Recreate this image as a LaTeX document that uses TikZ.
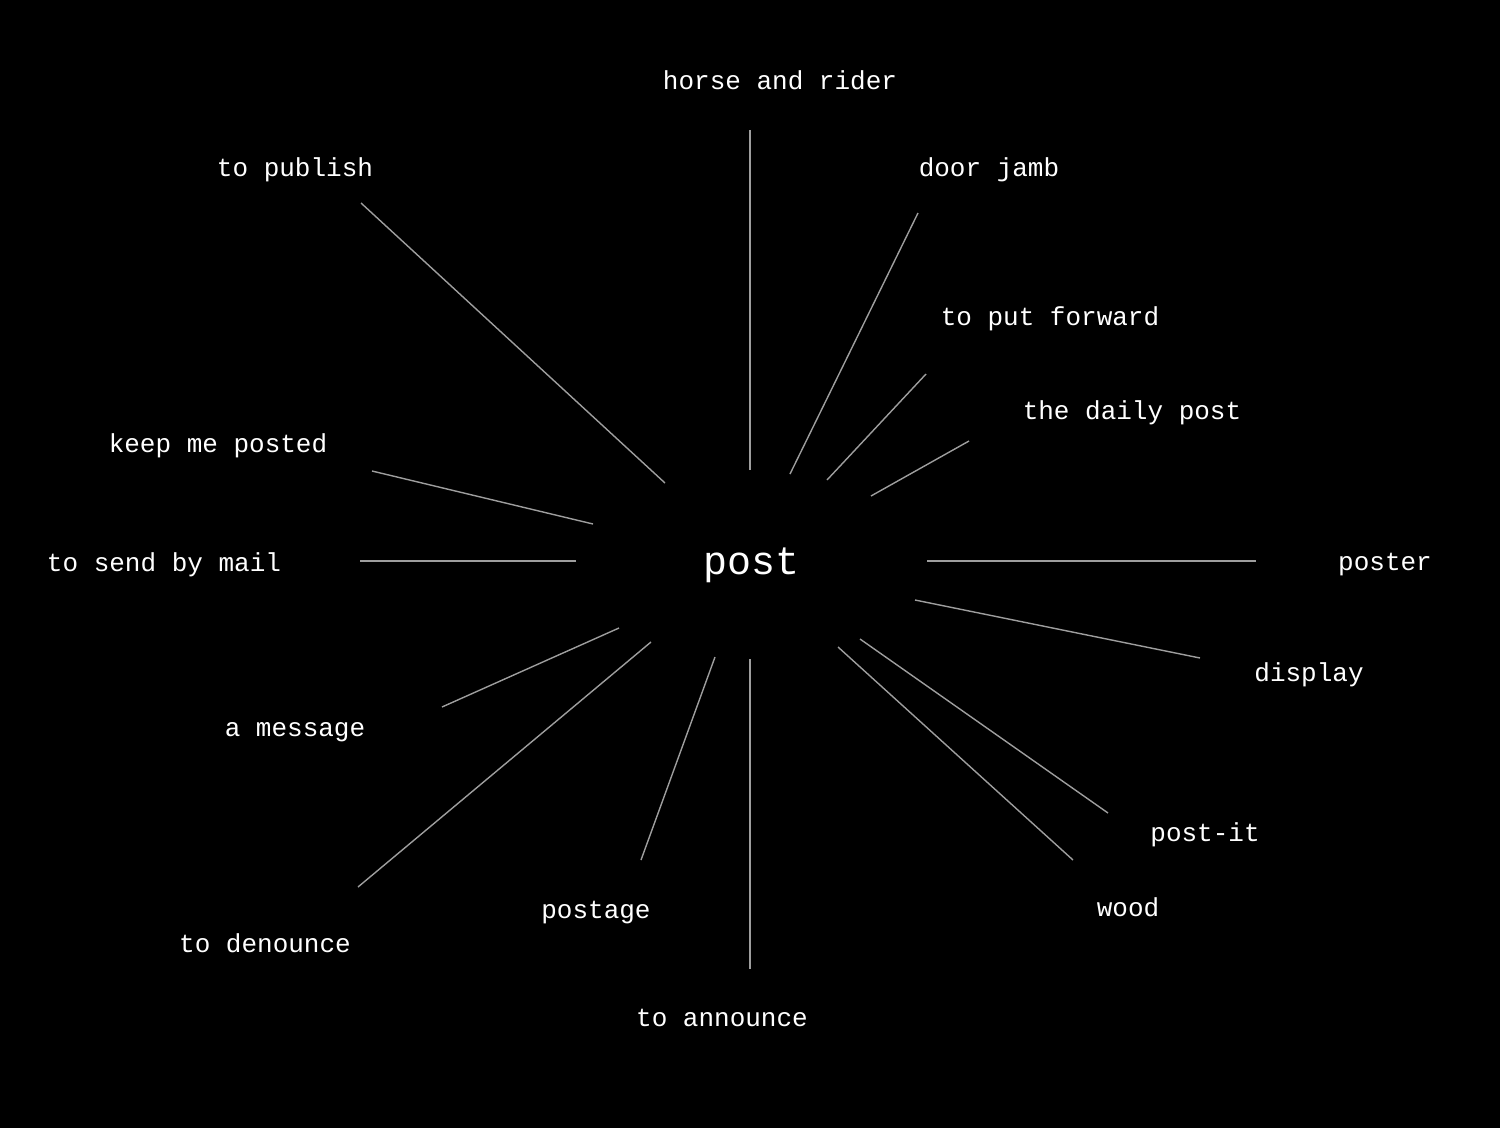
\documentclass[tikz,border=0pt]{standalone}
\usepackage{fontspec}
\setmonofont{Liberation Mono}
\begin{document}
\begin{tikzpicture}[x=1pt,y=-1pt,
  lbl/.style={text=white,font=\ttfamily\fontsize{26}{30}\selectfont,inner sep=0pt,anchor=center,yshift=-2pt},
  hub/.style={text=white,font=\ttfamily\fontsize{40}{46}\selectfont,inner sep=0pt,anchor=center,yshift=-2pt},
  spoke/.style={draw=white!62!black,line width=1.4pt}]
\fill[black] (0,0) rectangle (1500,1128);
\useasboundingbox (0,0) rectangle (1500,1128);
% nodes
\node[hub] (post) at (752,563) {post};
\node[lbl] (hr) at (780,78) {horse and rider};
\node[lbl] (pub) at (295,168) {to publish};
\node[lbl] (dj) at (989,168) {door jamb};
\node[lbl] (pf) at (1050,317) {to put forward};
\node[lbl] (dp) at (1132,411) {the daily post};
\node[lbl] (kmp) at (218,444) {keep me posted};
\node[lbl] (sbm) at (164,563) {to send by mail};
\node[lbl] (pst) at (1385,563) {poster};
\node[lbl] (dsp) at (1309,673) {display};
\node[lbl] (msg) at (295,730) {a message};
\node[lbl] (pit) at (1205,833) {post-it};
\node[lbl] (wd) at (1128,905) {wood};
\node[lbl] (pge) at (596,911) {postage};
\node[lbl] (den) at (265,941) {to denounce};
\node[lbl] (ann) at (722,1016) {to announce};
% connector end points
\coordinate (hr-o) at (750,130); \coordinate (hr-i) at (750,470);
\coordinate (pub-o) at (361,203); \coordinate (pub-i) at (665,483);
\coordinate (dj-o) at (918,213); \coordinate (dj-i) at (790,474);
\coordinate (pf-o) at (926,374); \coordinate (pf-i) at (827,480);
\coordinate (dp-o) at (969,441); \coordinate (dp-i) at (871,496);
\coordinate (kmp-o) at (372,471); \coordinate (kmp-i) at (593,524);
\coordinate (sbm-o) at (360,561); \coordinate (sbm-i) at (576,561);
\coordinate (pst-o) at (1256,561); \coordinate (pst-i) at (927,561);
\coordinate (dsp-o) at (1200,658); \coordinate (dsp-i) at (915,600);
\coordinate (msg-o) at (442,707); \coordinate (msg-i) at (619,628);
\coordinate (den-o) at (358,887); \coordinate (den-i) at (651,642);
\coordinate (pge-o) at (641,860); \coordinate (pge-i) at (715,657);
\coordinate (ann-o) at (750,969); \coordinate (ann-i) at (750,659);
\coordinate (wd-o) at (1073,860); \coordinate (wd-i) at (838,647);
\coordinate (pit-o) at (1108,813); \coordinate (pit-i) at (860,639);
\foreach \n in {hr,pub,dj,pf,dp,kmp,sbm,pst,dsp,msg,den,pge,ann,wd,pit}
  \draw[spoke] (\n-i) -- (\n-o);
\end{tikzpicture}
\end{document}
